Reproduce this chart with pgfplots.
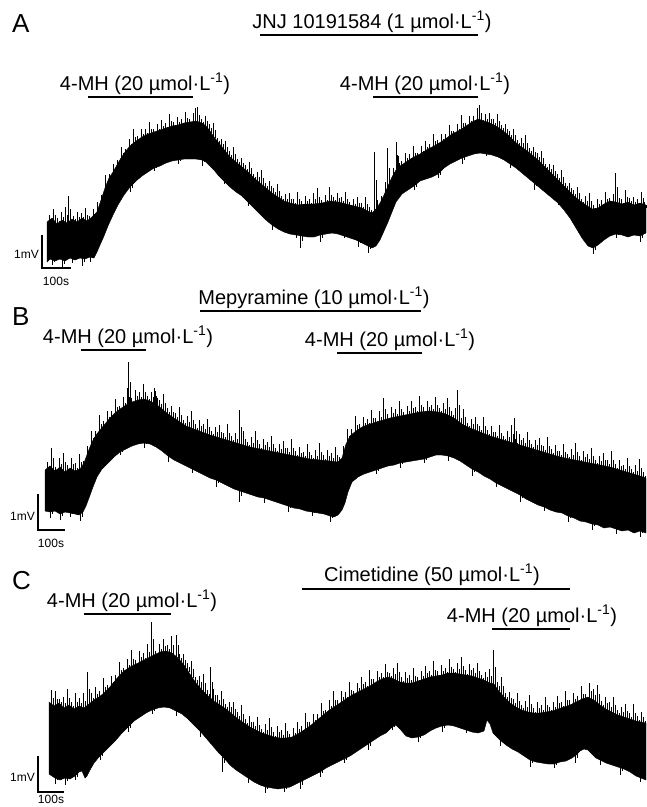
\documentclass[border=0pt]{standalone}
\usepackage{pgfplots}
\usepackage{pgfplotstable}
\pgfplotsset{compat=1.18}
\usepackage{fontspec}
\setmainfont{Liberation Sans}
\newcommand{\lab}{\fontsize{20}{24}\selectfont}
\newcommand{\pan}{\fontsize{26}{30}\selectfont}
\newcommand{\sml}{\fontsize{12}{14}\selectfont}
% hairs (noise spikes): x, base y, tip y  (pixel coordinates)
\pgfplotstableread{
x y t
49 223 215
53 223 209
57 224 218
61 223 212
65 224 207
68 224 196
73 223 216
77 224 212
81 222 213
85 223 208
89 222 216
93 219 209
97 215 202
101 203 195
105 191 175
109 181 174
113 175 164
117 168 160
121 161 147
125 155 149
129 150 139
133 146 129
137 143 136
141 141 129
145 138 129
149 137 122
153 135 129
157 134 124
161 133 120
165 131 123
169 130 114
173 129 122
177 128 117
181 127 119
185 126 112
189 125 119
193 124 113
195 124 108
197 124 107
201 126 119
205 128 116
209 133 124
213 138 123
217 144 138
221 149 139
225 154 141
229 159 151
233 163 147
237 166 159
241 169 158
245 173 165
249 176 162
253 180 174
257 183 172
261 187 170
265 190 183
269 193 181
273 197 188
277 199 184
281 202 196
285 204 194
289 206 193
293 207 199
297 208 192
301 208 201
305 207 196
309 207 199
313 207 193
317 207 188
321 206 200
325 206 195
329 204 187
333 204 197
337 205 193
341 206 197
345 207 192
349 208 202
353 209 199
357 210 197
361 211 203
365 213 197
369 214 207
374 215 152
377 211 200
381 204 196
385 196 182
387 192 148
389 187 181
393 179 168
396 173 142
397 172 155
401 168 161
405 165 153
409 163 154
413 161 146
417 159 153
421 156 146
425 154 141
429 152 144
433 150 134
437 147 140
441 145 134
445 142 134
449 139 125
453 137 131
457 135 124
461 132 115
465 130 123
469 128 116
473 125 116
477 123 108
479 122 105
481 123 117
485 124 114
489 126 113
493 127 119
497 130 114
501 132 125
505 135 124
509 139 131
513 143 129
517 146 140
521 149 138
525 152 135
529 155 148
533 159 147
537 162 153
541 166 151
545 170 164
549 174 164
553 178 165
557 182 174
561 186 170
565 190 183
569 194 183
573 198 190
577 201 187
581 205 199
585 207 196
589 210 193
593 212 205
597 211 199
601 209 200
605 207 192
609 204 198
613 204 194
615 205 173
617 205 192
621 207 199
625 206 190
629 205 198
633 208 197
637 207 199
641 206 192
644 208 202
52 258 265
62 258 269
72 257 263
82 256 266
90 254 262
130 184 192
154 165 171
178 157 164
202 157 166
224 178 184
248 199 206
272 222 230
296 232 238
300 232 248
320 232 242
344 233 238
358 238 247
368 243 253
414 183 190
438 171 178
462 155 164
486 151 156
510 161 168
534 180 190
558 200 205
593 245 254
616 231 238
640 233 242
}\hairsA
\pgfplotstableread{
x y t
47 471 462
51 470 448
55 474 467
59 471 458
63 473 453
67 473 465
71 472 458
75 474 463
79 472 454
83 468 461
87 458 446
91 447 431
95 440 431
99 434 415
103 429 421
107 424 411
111 420 411
115 416 399
119 413 406
123 410 397
127 408 388
128 407 362
131 406 398
135 404 390
139 403 392
143 402 384
147 403 396
151 404 392
154 406 388
155 407 391
159 409 400
163 413 394
167 416 408
171 419 406
175 422 413
179 424 407
183 427 420
187 429 416
191 431 411
195 432 424
199 434 420
203 435 424
207 437 419
211 438 431
215 439 427
219 441 425
223 442 433
227 443 424
231 444 436
235 446 433
239 447 410
243 448 431
247 449 442
251 450 437
255 451 431
259 452 444
263 453 439
267 453 442
271 454 436
275 455 448
279 456 444
283 457 441
287 457 448
291 458 439
295 459 451
299 460 447
303 461 452
307 461 444
311 462 455
315 463 450
319 463 443
323 463 455
327 464 450
331 464 453
335 465 447
339 464 457
343 458 446
347 445 429
351 438 429
355 435 416
359 432 424
363 430 417
367 428 419
371 427 410
375 425 418
379 424 411
383 423 398
387 422 414
391 421 407
395 420 409
399 419 401
403 419 412
407 418 406
411 417 401
415 416 407
419 415 396
423 415 407
427 414 401
431 414 405
435 414 397
439 415 408
443 416 403
447 418 398
451 419 411
455 422 408
457 423 390
459 424 413
463 427 409
467 430 423
471 431 419
475 433 417
479 435 426
483 436 417
487 438 430
491 439 426
495 441 432
499 442 425
503 443 436
507 444 431
511 445 425
514 446 418
515 447 439
519 448 434
523 449 438
527 450 432
531 451 444
535 452 440
539 454 438
543 455 446
547 456 437
551 457 449
555 458 445
559 460 451
563 461 444
567 461 454
571 462 449
575 463 443
579 464 456
583 465 451
587 465 454
591 466 448
595 467 460
599 468 456
603 469 453
607 469 460
611 470 451
615 472 464
619 473 460
623 474 465
627 475 458
631 476 469
635 478 465
639 479 459
643 480 472
50 509 518
60 511 520
70 510 517
80 511 521
120 449 455
144 440 448
168 453 462
192 466 473
216 477 487
239 488 502
264 495 503
288 503 512
312 509 516
330 513 522
376 467 474
400 460 468
424 456 463
448 453 461
472 466 476
496 480 487
520 492 502
544 504 511
568 513 522
592 521 530
616 526 534
640 528 537
}\hairsB
\pgfplotstableread{
x y t
51 707 690
55 708 691
59 706 699
63 710 697
67 709 689
71 710 702
75 712 693
79 709 698
83 711 693
87 710 672
91 705 693
95 703 687
99 700 691
103 697 678
107 693 685
111 689 676
115 684 675
119 679 662
123 675 668
127 672 659
131 670 650
135 668 660
139 665 651
143 664 653
147 662 644
151 660 622
155 658 651
159 656 644
163 655 639
167 654 645
171 655 636
176 658 635
179 662 654
183 667 654
187 672 663
191 678 661
195 684 677
199 689 676
203 694 674
207 698 690
210 701 667
213 703 689
217 706 695
221 709 691
225 711 704
229 714 702
233 718 702
237 721 712
241 724 705
245 727 719
249 729 716
253 731 722
257 734 717
261 736 729
265 737 724
269 738 718
273 740 732
277 740 726
281 741 730
285 741 723
289 741 734
293 740 728
297 738 722
301 735 726
305 732 713
309 730 722
313 727 714
317 723 714
321 720 703
325 717 710
329 713 700
333 711 691
337 708 700
341 705 691
345 703 692
349 700 682
353 698 691
357 695 683
361 693 677
365 691 682
369 689 670
373 687 679
377 684 671
381 682 673
385 681 664
389 680 673
393 681 668
397 683 663
401 685 677
405 686 672
409 686 675
413 686 668
417 684 677
421 683 671
425 682 666
429 680 671
433 680 661
437 679 671
441 678 665
445 677 668
449 676 659
453 676 669
457 676 663
461 677 657
465 678 670
469 678 664
473 679 668
477 681 663
481 682 675
485 684 672
489 685 669
493 687 650
497 691 682
501 696 677
505 701 693
509 705 692
513 708 699
517 710 693
521 712 705
525 714 701
529 715 695
533 716 708
537 716 702
541 716 705
545 715 697
549 714 707
553 714 702
557 712 696
561 711 702
565 710 691
569 708 700
573 706 693
577 705 696
581 703 686
585 701 694
589 700 683
593 702 689
597 705 685
601 709 701
605 711 697
609 713 702
613 715 697
617 717 710
621 719 707
625 720 704
629 722 713
633 723 704
637 724 716
641 725 712
643 726 717
55 775 784
65 776 785
75 773 780
100 752 760
128 724 732
152 707 714
176 708 716
200 728 737
222 753 772
248 775 783
265 783 793
284 785 792
300 779 789
320 769 777
344 756 763
368 741 750
392 724 730
418 734 742
442 723 732
466 727 733
500 737 746
530 757 767
554 761 768
575 752 763
600 757 765
620 765 775
640 774 782
}\hairsC
\begin{document}
\begin{tikzpicture}
\begin{axis}[hide axis, scale only axis, width=646pt, height=807pt,
  xmin=0, xmax=646, ymin=0, ymax=807, y dir=reverse, clip=false]
\path (axis cs:0,0) rectangle (axis cs:646,807);
% ---------------- Panel A trace ----------------
\addplot[fill=black, draw=black, line width=0.4pt] coordinates {
(47,222)(52,218)(57,224)(62,220)(67,223)(72,219)(77,222)(82,218)(87,221)(92,217)(97,212)(101,200)(105,188)(109,178)(113,172)(117,165)(121,158)(125,152)(130,146)(136,141)(142,137)(148,134)(154,132)(160,130)(166,128)(172,126)(178,125)(184,123)(190,122)(196,121)(202,123)(206,126)(210,131)(214,137)(218,142)(222,147)(226,152)(230,157)(236,162)(242,167)(248,172)(254,178)(260,183)(266,188)(272,193)(278,197)(284,201)(290,203)(298,205)(306,204)(314,204)(322,203)(330,201)(338,202)(346,204)(354,206)(362,208)(368,211)(372,213)(376,209)(380,203)(384,195)(388,186)(392,177)(396,170)(400,166)(406,162)(412,158)(420,154)(428,149)(436,145)(444,140)(452,134)(460,130)(466,126)(472,122)(478,119)(484,121)(490,123)(496,126)(502,130)(508,135)(514,141)(520,146)(526,150)(532,155)(538,160)(544,166)(550,172)(556,178)(562,184)(568,190)(574,196)(580,201)(586,205)(592,209)(598,208)(604,204)(610,201)(616,202)(622,204)(628,202)(634,205)(640,203)(646,205)
(646,233)(640,236)(634,235)(628,237)(622,235)(616,234)(610,236)(604,240)(598,245)(593,248)(588,246)(582,238)(576,228)(570,218)(564,210)(558,203)(552,198)(546,193)(540,188)(534,183)(528,178)(522,173)(516,168)(510,164)(504,160)(498,157)(492,155)(486,154)(480,153)(474,154)(468,156)(462,158)(456,161)(450,164)(444,168)(438,174)(432,177)(426,179)(420,181)(414,186)(408,190)(402,194)(396,202)(392,212)(388,222)(384,231)(380,240)(376,246)(372,248)(368,246)(362,243)(356,240)(350,238)(344,236)(338,234)(332,233)(326,234)(320,235)(314,237)(308,237)(302,236)(296,235)(290,234)(284,232)(278,229)(272,225)(266,220)(260,214)(254,208)(248,202)(242,196)(236,192)(230,187)(224,181)(218,175)(214,170)(210,166)(206,162)(202,160)(196,159)(190,159)(184,159)(178,160)(172,161)(166,163)(160,166)(154,168)(148,172)(142,176)(136,181)(130,187)(124,195)(118,205)(113,215)(108,226)(104,236)(100,245)(97,252)(94,258)(90,257)(85,259)(80,258)(75,260)(70,258)(65,261)(60,259)(55,261)(50,259)(47,262)
} -- cycle;
\addplot[black, line width=0.7pt, quiver={u=0, v=\thisrow{t}-\thisrow{y}}] table {\hairsA};
\addplot[black, line width=0.7pt, quiver={u=0, v=0.55*(\thisrow{t}-\thisrow{y})}] table[x expr=\thisrow{x}+2] {\hairsA};
% ---------------- Panel B trace ----------------
\addplot[fill=black, draw=black, line width=0.4pt] coordinates {
(45,470)(50,466)(55,471)(60,467)(65,472)(70,468)(75,471)(80,469)(84,463)(88,452)(92,442)(96,435)(100,430)(105,424)(110,418)(115,413)(120,409)(126,405)(132,402)(138,400)(144,399)(150,401)(156,404)(162,409)(168,414)(174,418)(180,422)(186,426)(194,429)(202,432)(210,435)(220,438)(230,441)(240,444)(250,447)(260,449)(270,451)(280,453)(290,455)(300,457)(310,459)(320,460)(330,461)(338,462)(342,458)(346,444)(350,436)(356,431)(362,427)(370,424)(380,421)(390,418)(400,416)(410,414)(420,412)(430,411)(438,412)(446,414)(454,418)(462,424)(470,428)(480,432)(490,436)(500,439)(510,442)(520,445)(530,448)(540,451)(550,454)(560,457)(570,459)(580,461)(590,463)(600,465)(610,467)(620,470)(630,473)(640,476)(646,478)
(646,533)(640,531)(634,533)(628,530)(622,531)(616,529)(610,527)(604,528)(598,525)(592,524)(586,522)(580,521)(574,518)(568,516)(562,513)(556,512)(550,510)(544,507)(538,505)(532,502)(526,499)(520,495)(514,492)(508,489)(502,486)(496,483)(490,479)(484,476)(478,472)(472,469)(466,465)(460,461)(454,458)(448,456)(442,455)(436,455)(430,457)(424,459)(418,460)(412,461)(406,462)(400,463)(394,465)(388,466)(382,468)(376,470)(370,472)(364,474)(358,477)(352,482)(348,492)(345,503)(342,510)(338,515)(334,517)(330,516)(324,514)(318,513)(312,512)(306,511)(300,509)(294,508)(288,506)(282,504)(276,502)(270,500)(264,498)(258,497)(252,495)(246,493)(240,491)(234,489)(228,486)(222,483)(216,480)(210,478)(204,475)(198,472)(192,469)(186,466)(180,463)(174,460)(168,456)(162,451)(156,447)(150,444)(144,443)(138,444)(132,446)(126,449)(120,452)(114,457)(108,463)(102,469)(97,477)(93,487)(89,498)(86,506)(83,512)(79,515)(75,514)(70,513)(65,512)(60,514)(55,511)(50,512)(45,511)
} -- cycle;
\addplot[black, line width=0.7pt, quiver={u=0, v=\thisrow{t}-\thisrow{y}}] table {\hairsB};
\addplot[black, line width=0.7pt, quiver={u=0, v=0.55*(\thisrow{t}-\thisrow{y})}] table[x expr=\thisrow{x}+2] {\hairsB};
% ---------------- Panel C trace ----------------
\addplot[fill=black, draw=black, line width=0.4pt] coordinates {
(49,702)(54,706)(59,703)(64,708)(69,705)(74,709)(79,706)(84,708)(89,704)(94,700)(99,697)(104,693)(109,688)(114,682)(119,676)(124,671)(130,667)(136,664)(142,661)(148,658)(154,655)(160,652)(166,651)(172,653)(178,658)(184,665)(190,674)(196,683)(202,690)(208,696)(214,701)(220,705)(226,709)(232,714)(238,719)(244,723)(250,727)(256,730)(262,733)(268,735)(274,737)(280,738)(286,738)(292,737)(298,734)(304,730)(310,726)(316,721)(322,716)(328,711)(334,707)(340,703)(346,699)(352,695)(358,692)(364,689)(370,686)(376,682)(382,679)(388,677)(394,679)(400,682)(406,683)(412,683)(418,681)(424,679)(430,677)(436,676)(442,675)(448,673)(454,673)(460,674)(466,675)(472,676)(478,678)(484,680)(490,683)(494,684)(498,690)(504,697)(510,703)(516,707)(522,710)(528,712)(534,713)(540,713)(546,712)(552,711)(558,709)(564,707)(570,705)(576,702)(582,699)(588,697)(594,700)(600,705)(606,709)(612,712)(618,715)(624,717)(630,719)(636,721)(641,722)(646,723)
(646,780)(641,778)(636,776)(630,772)(624,769)(618,767)(612,765)(606,763)(600,760)(596,758)(592,754)(588,750)(584,749)(580,751)(576,755)(572,758)(566,761)(560,762)(554,764)(548,764)(542,763)(536,762)(530,760)(524,756)(518,752)(512,749)(506,745)(500,740)(496,736)(493,733)(490,724)(487,720)(484,731)(478,733)(472,732)(466,730)(460,728)(454,726)(448,725)(442,726)(436,728)(430,731)(424,735)(418,737)(412,738)(406,736)(400,729)(396,725)(392,727)(386,733)(380,736)(374,740)(368,744)(362,748)(356,752)(350,756)(344,759)(338,762)(332,765)(326,768)(320,772)(314,775)(308,778)(302,781)(296,784)(290,787)(284,788)(278,789)(272,788)(266,787)(260,785)(254,782)(248,778)(242,774)(236,770)(230,765)(224,758)(218,752)(212,745)(206,738)(200,731)(194,725)(188,719)(182,714)(176,711)(170,708)(164,707)(158,708)(152,710)(146,713)(140,717)(134,721)(128,727)(122,733)(116,740)(110,746)(104,752)(99,757)(94,763)(90,770)(87,776)(85,778)(82,771)(79,772)(75,776)(70,779)(65,778)(60,780)(55,778)(49,774)
} -- cycle;
\addplot[black, line width=0.7pt, quiver={u=0, v=\thisrow{t}-\thisrow{y}}] table {\hairsC};
\addplot[black, line width=0.7pt, quiver={u=0, v=0.55*(\thisrow{t}-\thisrow{y})}] table[x expr=\thisrow{x}+2] {\hairsC};
% ---------------- Drug application bars ----------------
\addplot[black, line width=2.6pt] coordinates {(260,35) (478,35)};
\addplot[black, line width=2.6pt] coordinates {(88,97) (193,97)};
\addplot[black, line width=2.6pt] coordinates {(373,97) (478,97)};
\addplot[black, line width=2.6pt] coordinates {(200,311) (421,311)};
\addplot[black, line width=2.6pt] coordinates {(81,350) (146,350)};
\addplot[black, line width=2.6pt] coordinates {(337,353) (422,353)};
\addplot[black, line width=2.6pt] coordinates {(302,589) (570,589)};
\addplot[black, line width=2.6pt] coordinates {(84,614) (171,614)};
\addplot[black, line width=2.6pt] coordinates {(492,629) (570,629)};
% ---------------- Scale bars ----------------
\addplot[black, line width=1.1pt] coordinates {(42,235) (42,268) (71,268)};
\addplot[black, line width=1.1pt] coordinates {(38,494) (38,530) (65,530)};
\addplot[black, line width=1.1pt] coordinates {(38,756) (38,792) (64,792)};
% ---------------- Text ----------------
\node[anchor=base west, font=\pan, inner sep=0pt] at (axis cs:12,32) {A};
\node[anchor=base west, font=\pan, inner sep=0pt] at (axis cs:12,325) {B};
\node[anchor=base west, font=\pan, inner sep=0pt] at (axis cs:12,589) {C};
\node[anchor=base, font=\lab, inner sep=0pt] at (axis cs:372,28) {JNJ 10191584 (1 µmol·L\textsuperscript{-1})};
\node[anchor=base, font=\lab, inner sep=0pt] at (axis cs:145,90) {4-MH (20 µmol·L\textsuperscript{-1})};
\node[anchor=base, font=\lab, inner sep=0pt] at (axis cs:425,90) {4-MH (20 µmol·L\textsuperscript{-1})};
\node[anchor=base, font=\lab, inner sep=0pt] at (axis cs:314,304) {Mepyramine (10 µmol·L\textsuperscript{-1})};
\node[anchor=base, font=\lab, inner sep=0pt] at (axis cs:128,343) {4-MH (20 µmol·L\textsuperscript{-1})};
\node[anchor=base, font=\lab, inner sep=0pt] at (axis cs:390,346) {4-MH (20 µmol·L\textsuperscript{-1})};
\node[anchor=base, font=\lab, inner sep=0pt] at (axis cs:432,581) {Cimetidine (50 µmol·L\textsuperscript{-1})};
\node[anchor=base, font=\lab, inner sep=0pt] at (axis cs:132,607) {4-MH (20 µmol·L\textsuperscript{-1})};
\node[anchor=base, font=\lab, inner sep=0pt] at (axis cs:532,622) {4-MH (20 µmol·L\textsuperscript{-1})};
\node[anchor=base east, font=\sml, inner sep=0pt] at (axis cs:39,258) {1mV};
\node[anchor=base, font=\sml, inner sep=0pt] at (axis cs:56,285) {100s};
\node[anchor=base east, font=\sml, inner sep=0pt] at (axis cs:35,520) {1mV};
\node[anchor=base, font=\sml, inner sep=0pt] at (axis cs:51,547) {100s};
\node[anchor=base east, font=\sml, inner sep=0pt] at (axis cs:35,781) {1mV};
\node[anchor=base, font=\sml, inner sep=0pt] at (axis cs:51,803) {100s};
\end{axis}
\end{tikzpicture}
\end{document}
